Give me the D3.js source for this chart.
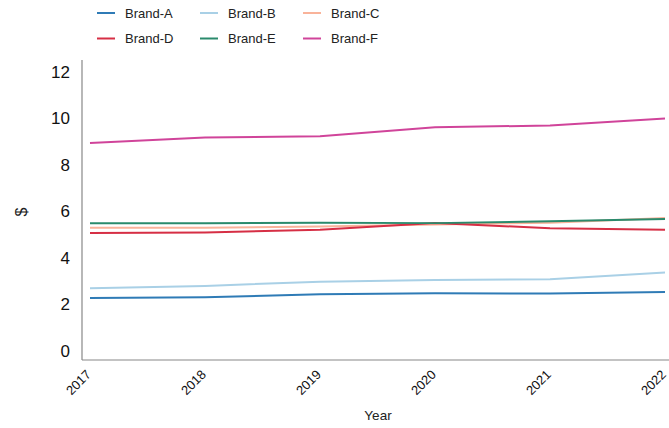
<!DOCTYPE html>
<html><head><meta charset="utf-8">
<script src="https://cdn.jsdelivr.net/npm/d3@7"></script>
<style>body{margin:0;background:#fff;font-family:"Liberation Sans",Arial,sans-serif;}</style>
</head><body><svg id="c" width="669" height="428"></svg>
<script>
const years = [2017, 2018, 2019, 2020, 2021, 2022];
const brands = ["Brand-A","Brand-B","Brand-C","Brand-D","Brand-E","Brand-F"];
const brandA = [2.28, 2.31, 2.44, 2.48, 2.47, 2.54];
const brandB = [2.70, 2.80, 2.98, 3.05, 3.09, 3.38];
const brandC = [5.30, 5.30, 5.36, 5.44, 5.52, 5.72];
const brandD = [5.07, 5.10, 5.22, 5.50, 5.28, 5.22];
const brandE = [5.50, 5.50, 5.52, 5.50, 5.58, 5.68];
const brandF = [8.95, 9.18, 9.24, 9.62, 9.70, 10.00];
const yTicks = [0, 2, 4, 6, 8, 10, 12];
const colors = ["#2f7bb6","#a9d0e6","#f9b39a","#d62f45","#2a8a6c","#d0449a"];
const seriesVals = [brandA, brandB, brandC, brandD, brandE, brandF];

const svg = d3.select("#c");
const x = d3.scalePoint().domain(years).range([90, 665]);
const y = d3.scaleLinear().domain([0, 12]).range([351, 72]);
const axisColor = "#888";

svg.append("line").attr("x1", 82).attr("x2", 669).attr("y1", 360).attr("y2", 360)
  .attr("stroke", axisColor).attr("stroke-width", 1.2);
svg.append("line").attr("x1", 82).attr("x2", 82).attr("y1", 60).attr("y2", 360)
  .attr("stroke", axisColor).attr("stroke-width", 1.2);

const ya = svg.append("g").attr("transform", "translate(82,0)")
  .call(d3.axisLeft(y).tickValues(yTicks).tickSize(0).tickPadding(12));
ya.select(".domain").remove();
ya.selectAll("text").attr("font-size", 17).attr("fill", "#111").attr("font-family", "Liberation Sans, Arial, sans-serif");

const xa = svg.append("g").attr("transform", "translate(0,360)")
  .call(d3.axisBottom(x).tickSize(0).tickFormat(d3.format("d")));
xa.select(".domain").remove();
xa.selectAll("text")
  .attr("font-size", 13).attr("fill", "#111").attr("font-family", "Liberation Sans, Arial, sans-serif")
  .attr("text-anchor", "end").attr("dy", "0.35em")
  .attr("transform", "translate(-4,10) rotate(-45)");

svg.append("text").attr("x", 378).attr("y", 420).attr("text-anchor", "middle")
  .attr("font-size", 13.5).attr("fill", "#222").text("Year");
svg.append("text").attr("transform", "translate(27,212) rotate(-90)").attr("text-anchor", "middle")
  .attr("font-size", 16).attr("fill", "#222").text("$");

const line = d3.line().x((d, i) => x(years[i])).y(d => y(d));
seriesVals.forEach((vals, k) => {
  svg.append("path").datum(vals).attr("d", line)
    .attr("fill", "none").attr("stroke", colors[k]).attr("stroke-width", 2);
});

const lg = svg.append("g");
brands.forEach((b, k) => {
  const col = k % 3, row = Math.floor(k / 3);
  const lx = 97 + col * 103, ly = 13 + row * 25.5;
  lg.append("line").attr("x1", lx).attr("x2", lx + 18).attr("y1", ly).attr("y2", ly)
    .attr("stroke", colors[k]).attr("stroke-width", 2);
  lg.append("text").attr("x", lx + 28).attr("y", ly).attr("dy", "0.35em")
    .attr("font-size", 13).attr("fill", "#222").text(b);
});
</script></body></html>
